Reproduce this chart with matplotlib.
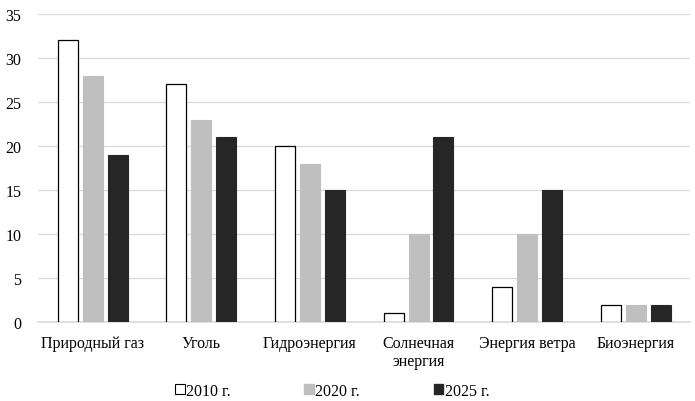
import numpy as np
import matplotlib.pyplot as plt
from matplotlib.patches import Patch

plt.rcParams['font.family'] = ['Liberation Serif', 'DejaVu Serif']

categories = ["Природный газ", "Уголь", "Гидроэнергия", "Солнечная\nэнергия", "Энергия ветра", "Биоэнергия"]
series_names = ["2010 г.", "2020 г.", "2025 г."]
v2010 = [32, 27, 20, 1, 4, 2]
v2020 = [28, 23, 18, 10, 10, 2]
v2025 = [19, 21, 15, 21, 15, 2]

fig = plt.figure(figsize=(6.95, 4.02), dpi=100)
ax = fig.add_axes([0.055, 0.196, 0.938, 0.767])

x = np.arange(len(categories))
w = 0.184
step = 0.23
ax.bar(x - step, v2010, w, color='white', edgecolor='black', linewidth=0.9, zorder=3)
ax.bar(x, v2020, w, color='#bfbfbf', edgecolor='#bfbfbf', linewidth=0.8, zorder=3)
ax.bar(x + step, v2025, w, color='#262626', edgecolor='#262626', linewidth=0.8, zorder=3)

ax.set_xlim(-0.5, len(categories) - 0.5)
ax.set_ylim(0, 35)
ax.set_yticks(range(0, 36, 5))
ax.set_xticks(x)
ax.set_xticklabels(categories, fontsize=11.5, linespacing=1.15)
ax.tick_params(axis='y', labelsize=11.5, length=0, pad=12)
ax.tick_params(axis='x', length=0, pad=9)
ax.grid(axis='y', color='#d9d9d9', linewidth=0.9, zorder=0)
for s in ['left', 'right', 'top']:
    ax.spines[s].set_visible(False)
ax.spines['bottom'].set_color('#d9d9d9')
ax.spines['bottom'].set_linewidth(1.2)

handles = [Patch(facecolor='white', edgecolor='black', linewidth=0.8),
           Patch(facecolor='#bfbfbf', edgecolor='#bfbfbf'),
           Patch(facecolor='#262626', edgecolor='#262626')]
fig.legend(handles, series_names, loc='center', bbox_to_anchor=(0.478, 0.025),
           ncol=3, frameon=False, fontsize=11.5, handlelength=0.6, handleheight=0.6,
           handletextpad=0.1, columnspacing=4.6)

fig.savefig('out.png', dpi=100)
